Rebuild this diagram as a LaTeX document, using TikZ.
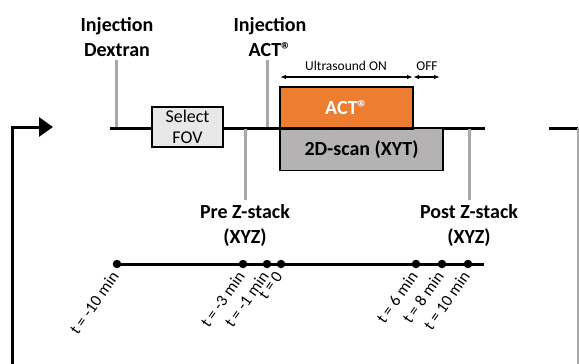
\documentclass[tikz,border=0pt]{standalone}
\usepackage{fontspec}
\setmainfont{Carlito}
\usetikzlibrary{arrows.meta}
\definecolor{actorange}{HTML}{ED7D31}
\definecolor{scangray}{HTML}{B4B2B2}
\definecolor{fovgray}{HTML}{E8E8E8}
\definecolor{tickgray}{HTML}{A8A8A8}
\tikzset{
  bigtext/.style={align=center, inner sep=0pt, font=\bfseries\fontsize{20}{25}\selectfont},
  tick/.style={draw=tickgray, line width=3pt},
  tline/.style={draw=black, line width=3pt},
  dot/.style={circle, fill, inner sep=0pt, minimum size=8.5pt},
  tlabel/.style={rotate=55, anchor=east, inner sep=0pt, font=\fontsize{16.5}{16.5}\selectfont},
}
\begin{document}
\begin{tikzpicture}[x=1pt,y=-1pt]
\useasboundingbox (0,0) rectangle (579,364);
% loop arrow on the left and the cut line on the right
\coordinate (lb) at (12,364);
\coordinate (lc) at (12,127);
\coordinate (la) at (53,127);
\draw[tline, -{Triangle[length=14pt,width=19pt]}] (lb) -- (lc) -- (la);
\coordinate (r0) at (549,128);
\coordinate (r1) at (578,128);
\coordinate (r2) at (578,364);
\draw[tline] (r0) -- (r1);
\draw[draw=tickgray, line width=1.2pt] (r1) -- (r2);
% upper timeline
\coordinate (m0) at (110,128);
\coordinate (m1) at (485,128);
\draw[tline] (m0) -- (m1);
\node[bigtext] (injdex) at (117,37) {Injection\\Dextran};
\coordinate (tdex0) at (116,60);
\coordinate (tdex1) at (116,127);
\draw[tick] (tdex0) -- (tdex1);
\node[bigtext] (injact) at (270,37) {Injection\\ACT®};
\coordinate (tact0) at (267,60);
\coordinate (tact1) at (267,127);
\draw[tick] (tact0) -- (tact1);
\coordinate (tpre0) at (245,129);
\coordinate (tpre1) at (245,200);
\draw[tick] (tpre0) -- (tpre1);
\node[bigtext] (prez) at (245,225) {Pre Z-stack\\(XYZ)};
\coordinate (tpost0) at (469,129);
\coordinate (tpost1) at (469,200);
\draw[tick] (tpost0) -- (tpost1);
\node[bigtext] (postz) at (469,225) {Post Z-stack\\(XYZ)};
\node[draw, line width=1.2pt, fill=fovgray, minimum width=71pt, minimum height=40pt, align=center, inner sep=0pt, font=\fontsize{18}{21}\selectfont] (fov) at (187.5,127) {Select\\FOV};
\node[draw, line width=1.2pt, fill=scangray, minimum width=163pt, minimum height=42pt, inner sep=0pt, font=\bfseries\fontsize{20}{20}\selectfont] (scan) at (361.5,149.5) {2D-scan (XYT)};
\node[draw, line width=1.2pt, fill=actorange, text=white, minimum width=133pt, minimum height=41pt, inner sep=0pt, font=\bfseries\fontsize{20}{20}\selectfont] (act) at (346.5,107.5) {ACT®};
\draw[tline] (act.south west) -- (act.south east);
% ultrasound
\coordinate (us0) at (280,77);
\coordinate (us1) at (413,77);
\coordinate (us2) at (440,77);
\draw[line width=1.3pt, {Latex[length=6pt]}-{Latex[length=6pt]}] (us0) -- (us1);
\draw[line width=1.3pt, {Latex[length=6pt]}-{Latex[length=6pt]}] (us1) -- (us2);
\node[font=\fontsize{13.5}{13.5}\selectfont, inner sep=0pt] (uson) at (346,66) {Ultrasound ON};
\node[font=\fontsize{13.5}{13.5}\selectfont, inner sep=0pt] (usoff) at (427,66) {OFF};
% lower timeline
\coordinate (b0) at (117,264);
\coordinate (b1) at (484,264);
\draw[tline] (b0) -- (b1);
\foreach \x/\t [count=\i] in {117/-10 min, 243/-3 min, 267/-1 min, 281/0, 416/6 min, 442/8 min, 468/10 min}{
  \node[dot] (d\i) at (\x,264) {};
  \node[tlabel] (l\i) at ([shift={(-2,9)}]d\i) {t = \t};
}
\end{tikzpicture}
\end{document}
